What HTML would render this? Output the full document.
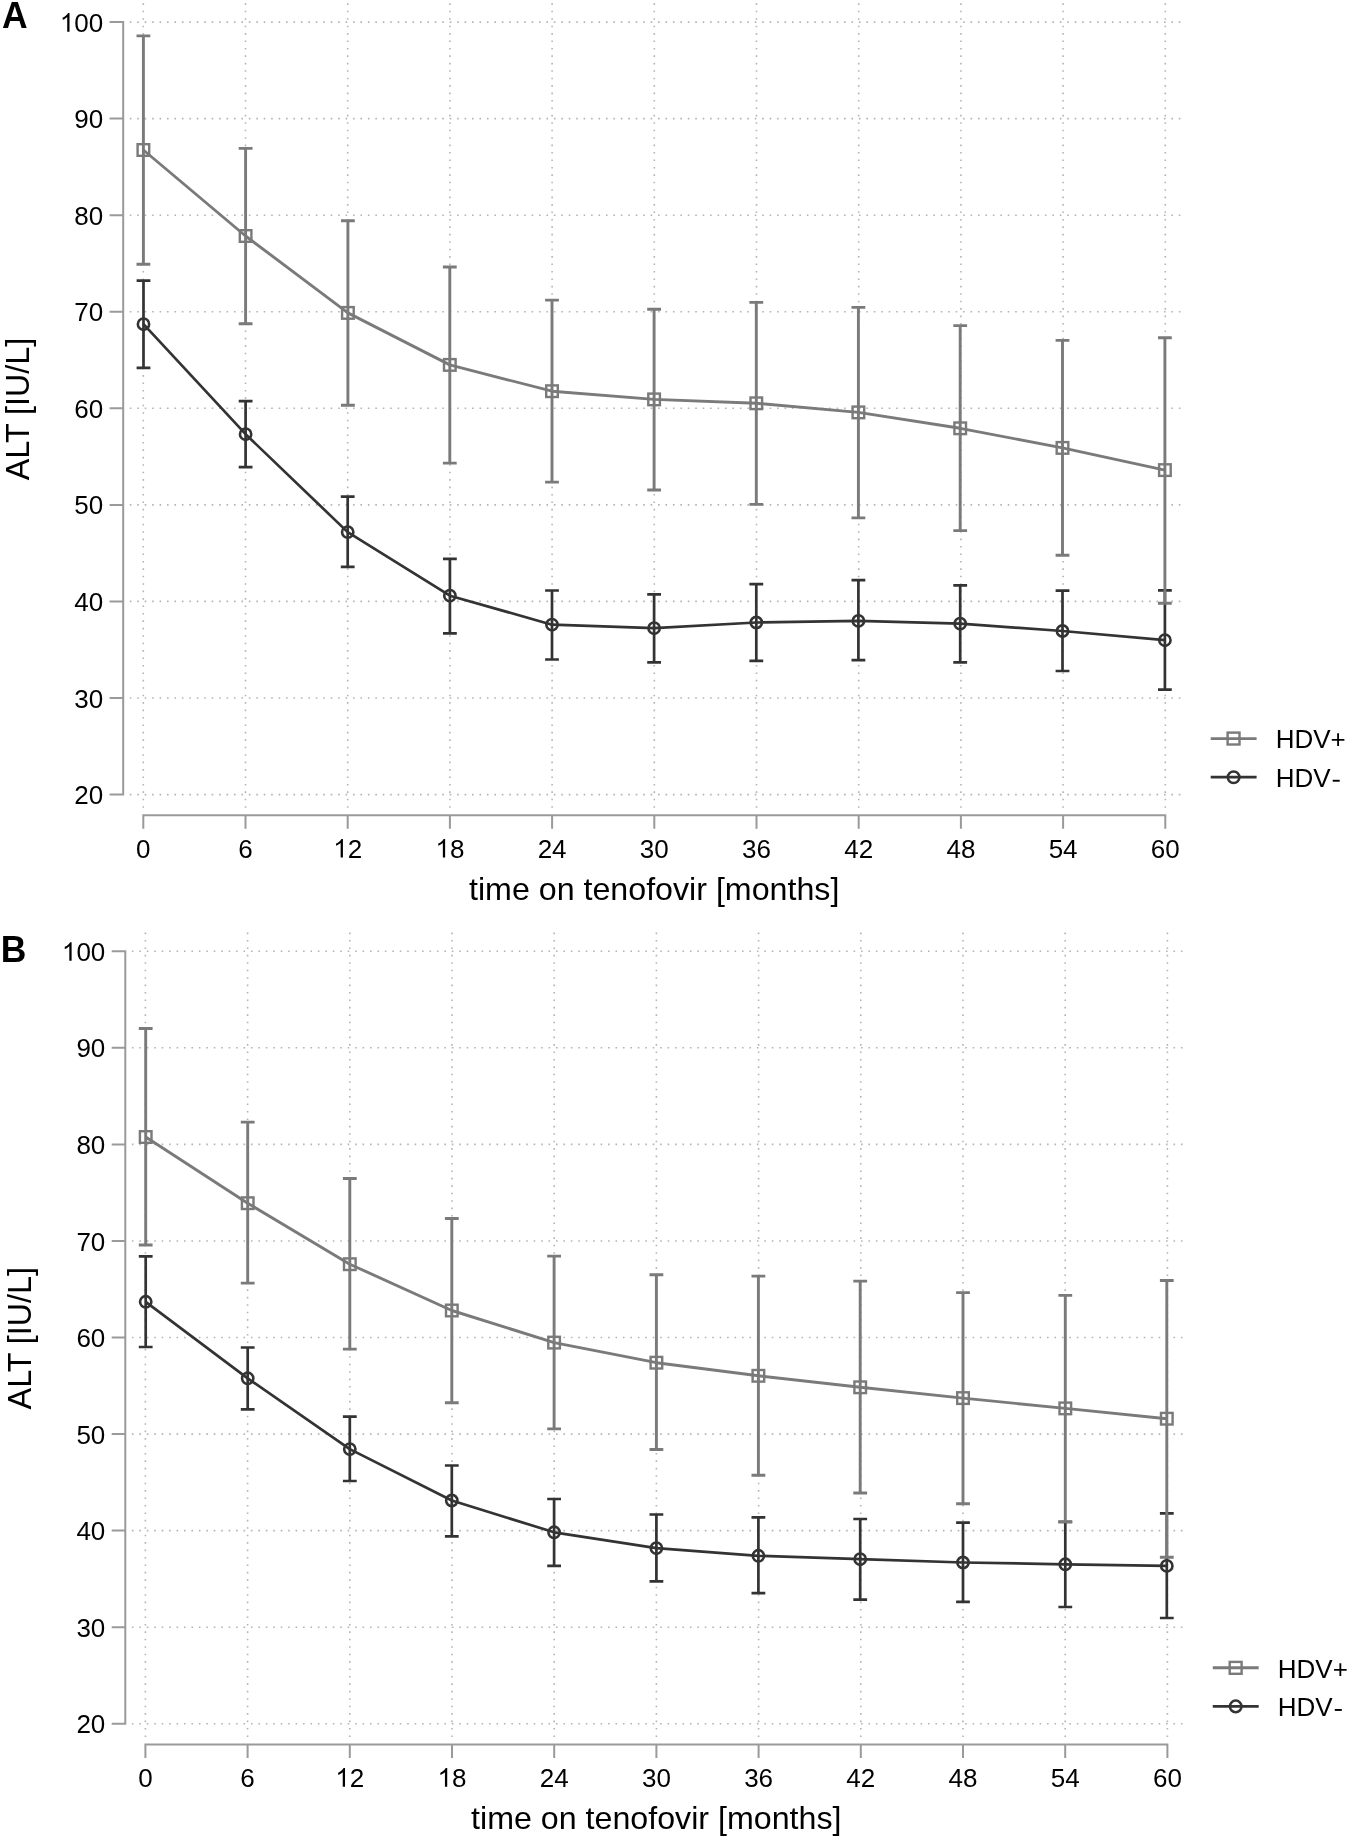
<!DOCTYPE html>
<html><head><meta charset="utf-8"><title>ALT over time on tenofovir</title>
<style>
html,body{margin:0;padding:0;background:#fff;}
body{width:1350px;height:1840px;overflow:hidden;}
svg{display:block;font-family:"Liberation Sans", sans-serif;will-change:transform;}
</style></head>
<body>
<svg width="1350" height="1840" viewBox="0 0 1350 1840">
<rect width="1350" height="1840" fill="#fff"/>
<path d="M129.8 794.6H1182.0 M129.8 698.0H1182.0 M129.8 601.4H1182.0 M129.8 504.9H1182.0 M129.8 408.3H1182.0 M129.8 311.8H1182.0 M129.8 215.2H1182.0 M129.8 118.6H1182.0 M129.8 22.1H1182.0" stroke="#b4b4b4" stroke-width="1.6" stroke-dasharray="1.6 5.84" fill="none"/>
<path d="M143.3 807.8V0.0 M245.5 807.8V0.0 M347.7 807.8V0.0 M449.9 807.8V0.0 M552.1 807.8V0.0 M654.3 807.8V0.0 M756.5 807.8V0.0 M858.7 807.8V0.0 M960.9 807.8V0.0 M1063.1 807.8V0.0 M1165.3 807.8V0.0" stroke="#b4b4b4" stroke-width="1.6" stroke-dasharray="1.6 5.834" fill="none"/>
<path d="M123.2 22.1V794.6 M110.6 794.6H123.2 M110.6 698.0H123.2 M110.6 601.4H123.2 M110.6 504.9H123.2 M110.6 408.3H123.2 M110.6 311.8H123.2 M110.6 215.2H123.2 M110.6 118.6H123.2 M110.6 22.1H123.2 M143.3 815.2H1165.3 M143.3 815.2V827.7 M245.5 815.2V827.7 M347.7 815.2V827.7 M449.9 815.2V827.7 M552.1 815.2V827.7 M654.3 815.2V827.7 M756.5 815.2V827.7 M858.7 815.2V827.7 M960.9 815.2V827.7 M1063.1 815.2V827.7 M1165.3 815.2V827.7" stroke="#9a9a9a" stroke-width="2" fill="none" stroke-linecap="square"/>
<g font-size="26" fill="#000"><text x="74.28 88.74" y="804.15">20</text><text x="74.28 88.74" y="707.59">30</text><text x="74.28 88.74" y="611.03">40</text><text x="74.28 88.74" y="514.47">50</text><text x="74.28 88.74" y="417.91">60</text><text x="74.28 88.74" y="321.35">70</text><text x="74.28 88.74" y="224.79">80</text><text x="74.28 88.74" y="128.23">90</text><path transform="translate(59.82 31.67) scale(0.012695 -0.012695)" d="M763 0H583V1147Q518 1085 412.5 1023Q307 961 223 930V1104Q374 1175 487 1276Q600 1377 647 1472H763Z"/><text x="74.28 88.74" y="31.67">00</text><text x="136.07" y="857.60">0</text><text x="238.27" y="857.60">6</text><path transform="translate(333.24 857.60) scale(0.012695 -0.012695)" d="M763 0H583V1147Q518 1085 412.5 1023Q307 961 223 930V1104Q374 1175 487 1276Q600 1377 647 1472H763Z"/><text x="347.70" y="857.60">2</text><path transform="translate(435.44 857.60) scale(0.012695 -0.012695)" d="M763 0H583V1147Q518 1085 412.5 1023Q307 961 223 930V1104Q374 1175 487 1276Q600 1377 647 1472H763Z"/><text x="449.90" y="857.60">8</text><text x="537.64 552.10" y="857.60">24</text><text x="639.84 654.30" y="857.60">30</text><text x="742.04 756.50" y="857.60">36</text><text x="844.24 858.70" y="857.60">42</text><text x="946.44 960.90" y="857.60">48</text><text x="1048.64 1063.10" y="857.60">54</text><text x="1150.84 1165.30" y="857.60">60</text></g>
<text x="469.0" y="900.2" font-size="32.2">time on tenofovir [months]</text>
<text transform="translate(29.3 409.0) rotate(-90)" text-anchor="middle" font-size="32.3">ALT [IU/L]</text>
<path d="M143.5 280.7V367.9M136.6 280.7H150.4M136.6 367.9H150.4M245.6 401.1V467.1M238.7 401.1H252.5M238.7 467.1H252.5M347.7 496.7V566.8M340.8 496.7H354.6M340.8 566.8H354.6M449.9 558.9V633.3M443.0 558.9H456.8M443.0 633.3H456.8M552.0 590.5V659.5M545.1 590.5H558.9M545.1 659.5H558.9M654.1 594.4V662.4M647.2 594.4H661.0M647.2 662.4H661.0M756.3 584.1V660.8M749.4 584.1H763.2M749.4 660.8H763.2M858.4 580.2V660.1M851.5 580.2H865.3M851.5 660.1H865.3M960.2 585.4V662.3M953.3 585.4H967.1M953.3 662.3H967.1M1062.5 590.6V671.0M1055.6 590.6H1069.4M1055.6 671.0H1069.4M1164.9 590.4V689.7M1158.0 590.4H1171.8M1158.0 689.7H1171.8" stroke="#333" stroke-width="2.7" fill="none"/><polyline points="143.5,324.2 245.6,434.2 347.7,532.1 449.9,595.7 552.0,624.7 654.1,628.2 756.3,622.5 858.4,620.9 960.2,623.7 1062.5,631.0 1164.9,640.2" stroke="#333" stroke-width="2.7" fill="none" stroke-linejoin="round"/><circle cx="143.5" cy="324.2" r="5.65" stroke="#333" stroke-width="2.6" fill="none"/><circle cx="245.6" cy="434.2" r="5.65" stroke="#333" stroke-width="2.6" fill="none"/><circle cx="347.7" cy="532.1" r="5.65" stroke="#333" stroke-width="2.6" fill="none"/><circle cx="449.9" cy="595.7" r="5.65" stroke="#333" stroke-width="2.6" fill="none"/><circle cx="552.0" cy="624.7" r="5.65" stroke="#333" stroke-width="2.6" fill="none"/><circle cx="654.1" cy="628.2" r="5.65" stroke="#333" stroke-width="2.6" fill="none"/><circle cx="756.3" cy="622.5" r="5.65" stroke="#333" stroke-width="2.6" fill="none"/><circle cx="858.4" cy="620.9" r="5.65" stroke="#333" stroke-width="2.6" fill="none"/><circle cx="960.2" cy="623.7" r="5.65" stroke="#333" stroke-width="2.6" fill="none"/><circle cx="1062.5" cy="631.0" r="5.65" stroke="#333" stroke-width="2.6" fill="none"/><circle cx="1164.9" cy="640.2" r="5.65" stroke="#333" stroke-width="2.6" fill="none"/>
<path d="M143.4 35.9V264.3M136.5 35.9H150.3M136.5 264.3H150.3M245.6 148.4V323.7M238.7 148.4H252.5M238.7 323.7H252.5M347.9 220.7V405.2M341.0 220.7H354.8M341.0 405.2H354.8M449.8 267.0V463.1M442.9 267.0H456.7M442.9 463.1H456.7M552.0 300.1V482.1M545.1 300.1H558.9M545.1 482.1H558.9M654.1 309.2V490.0M647.2 309.2H661.0M647.2 490.0H661.0M756.3 302.4V504.4M749.4 302.4H763.2M749.4 504.4H763.2M858.4 307.4V517.9M851.5 307.4H865.3M851.5 517.9H865.3M960.2 325.6V530.6M953.3 325.6H967.1M953.3 530.6H967.1M1062.5 340.4V555.3M1055.6 340.4H1069.4M1055.6 555.3H1069.4M1164.9 337.7V603.2M1158.0 337.7H1171.8M1158.0 603.2H1171.8" stroke="#7a7a7a" stroke-width="2.9" fill="none"/><polyline points="143.4,150.0 245.6,236.0 347.9,312.9 449.8,364.9 552.0,391.2 654.1,399.4 756.3,403.3 858.4,412.4 960.2,428.3 1062.5,447.9 1164.9,470.1" stroke="#7a7a7a" stroke-width="2.9" fill="none" stroke-linejoin="round"/><rect x="137.6" y="144.2" width="11.6" height="11.6" stroke="#7a7a7a" stroke-width="2.4" fill="none"/><rect x="239.8" y="230.2" width="11.6" height="11.6" stroke="#7a7a7a" stroke-width="2.4" fill="none"/><rect x="342.1" y="307.1" width="11.6" height="11.6" stroke="#7a7a7a" stroke-width="2.4" fill="none"/><rect x="444.0" y="359.1" width="11.6" height="11.6" stroke="#7a7a7a" stroke-width="2.4" fill="none"/><rect x="546.2" y="385.4" width="11.6" height="11.6" stroke="#7a7a7a" stroke-width="2.4" fill="none"/><rect x="648.3" y="393.6" width="11.6" height="11.6" stroke="#7a7a7a" stroke-width="2.4" fill="none"/><rect x="750.5" y="397.5" width="11.6" height="11.6" stroke="#7a7a7a" stroke-width="2.4" fill="none"/><rect x="852.6" y="406.6" width="11.6" height="11.6" stroke="#7a7a7a" stroke-width="2.4" fill="none"/><rect x="954.4" y="422.5" width="11.6" height="11.6" stroke="#7a7a7a" stroke-width="2.4" fill="none"/><rect x="1056.7" y="442.1" width="11.6" height="11.6" stroke="#7a7a7a" stroke-width="2.4" fill="none"/><rect x="1159.1" y="464.3" width="11.6" height="11.6" stroke="#7a7a7a" stroke-width="2.4" fill="none"/>
<path d="M1210.7 738.6H1256.6" stroke="#7a7a7a" stroke-width="2.9"/>
<rect x="1227.6" y="732.6" width="11.9" height="11.9" stroke="#7a7a7a" stroke-width="2.4" fill="none"/>
<path d="M1210.7 777.2H1256.6" stroke="#333" stroke-width="2.7"/>
<circle cx="1233.6" cy="777.2" r="5.8" stroke="#333" stroke-width="2.5" fill="none"/>
<text x="1275.7" y="748.4" font-size="26" style="font-kerning:none">HDV+</text>
<text x="1275.7" y="787.0" font-size="26" style="font-kerning:none">HDV</text>
<rect x="1332.7" y="779.8" width="7.0" height="1.9" fill="#000"/>
<path d="M131.9 1723.8H1184.1 M131.9 1627.2H1184.1 M131.9 1530.6H1184.1 M131.9 1434.1H1184.1 M131.9 1337.5H1184.1 M131.9 1241.0H1184.1 M131.9 1144.4H1184.1 M131.9 1047.8H1184.1 M131.9 951.3H1184.1" stroke="#b4b4b4" stroke-width="1.6" stroke-dasharray="1.6 5.84" fill="none"/>
<path d="M145.4 1737.0V929.2 M247.6 1737.0V929.2 M349.8 1737.0V929.2 M452.0 1737.0V929.2 M554.2 1737.0V929.2 M656.4 1737.0V929.2 M758.6 1737.0V929.2 M860.8 1737.0V929.2 M963.0 1737.0V929.2 M1065.2 1737.0V929.2 M1167.4 1737.0V929.2" stroke="#b4b4b4" stroke-width="1.6" stroke-dasharray="1.6 5.834" fill="none"/>
<path d="M125.3 951.3V1723.8 M112.7 1723.8H125.3 M112.7 1627.2H125.3 M112.7 1530.6H125.3 M112.7 1434.1H125.3 M112.7 1337.5H125.3 M112.7 1241.0H125.3 M112.7 1144.4H125.3 M112.7 1047.8H125.3 M112.7 951.3H125.3 M145.4 1744.4H1167.4 M145.4 1744.4V1756.9 M247.6 1744.4V1756.9 M349.8 1744.4V1756.9 M452.0 1744.4V1756.9 M554.2 1744.4V1756.9 M656.4 1744.4V1756.9 M758.6 1744.4V1756.9 M860.8 1744.4V1756.9 M963.0 1744.4V1756.9 M1065.2 1744.4V1756.9 M1167.4 1744.4V1756.9" stroke="#9a9a9a" stroke-width="2" fill="none" stroke-linecap="square"/>
<g font-size="26" fill="#000"><text x="76.38 90.84" y="1733.35">20</text><text x="76.38 90.84" y="1636.79">30</text><text x="76.38 90.84" y="1540.23">40</text><text x="76.38 90.84" y="1443.67">50</text><text x="76.38 90.84" y="1347.11">60</text><text x="76.38 90.84" y="1250.55">70</text><text x="76.38 90.84" y="1153.99">80</text><text x="76.38 90.84" y="1057.43">90</text><path transform="translate(61.92 960.87) scale(0.012695 -0.012695)" d="M763 0H583V1147Q518 1085 412.5 1023Q307 961 223 930V1104Q374 1175 487 1276Q600 1377 647 1472H763Z"/><text x="76.38 90.84" y="960.87">00</text><text x="138.17" y="1786.80">0</text><text x="240.37" y="1786.80">6</text><path transform="translate(335.34 1786.80) scale(0.012695 -0.012695)" d="M763 0H583V1147Q518 1085 412.5 1023Q307 961 223 930V1104Q374 1175 487 1276Q600 1377 647 1472H763Z"/><text x="349.80" y="1786.80">2</text><path transform="translate(437.54 1786.80) scale(0.012695 -0.012695)" d="M763 0H583V1147Q518 1085 412.5 1023Q307 961 223 930V1104Q374 1175 487 1276Q600 1377 647 1472H763Z"/><text x="452.00" y="1786.80">8</text><text x="539.74 554.20" y="1786.80">24</text><text x="641.94 656.40" y="1786.80">30</text><text x="744.14 758.60" y="1786.80">36</text><text x="846.34 860.80" y="1786.80">42</text><text x="948.54 963.00" y="1786.80">48</text><text x="1050.74 1065.20" y="1786.80">54</text><text x="1152.94 1167.40" y="1786.80">60</text></g>
<text x="471.1" y="1829.4" font-size="32.2">time on tenofovir [months]</text>
<text transform="translate(31.4 1338.2) rotate(-90)" text-anchor="middle" font-size="32.3">ALT [IU/L]</text>
<path d="M145.7 1256.4V1347.0M138.8 1256.4H152.6M138.8 1347.0H152.6M247.7 1347.5V1409.4M240.8 1347.5H254.6M240.8 1409.4H254.6M349.8 1416.7V1481.0M342.9 1416.7H356.7M342.9 1481.0H356.7M451.8 1465.5V1536.3M444.9 1465.5H458.7M444.9 1536.3H458.7M554.1 1499.0V1565.9M547.2 1499.0H561.0M547.2 1565.9H561.0M656.4 1514.5V1581.4M649.5 1514.5H663.3M649.5 1581.4H663.3M758.4 1517.4V1593.2M751.5 1517.4H765.3M751.5 1593.2H765.3M860.2 1519.0V1599.6M853.3 1519.0H867.1M853.3 1599.6H867.1M963.0 1522.6V1601.8M956.1 1522.6H969.9M956.1 1601.8H969.9M1065.3 1521.9V1607.0M1058.4 1521.9H1072.2M1058.4 1607.0H1072.2M1166.8 1513.4V1618.0M1159.9 1513.4H1173.7M1159.9 1618.0H1173.7" stroke="#333" stroke-width="2.7" fill="none"/><polyline points="145.7,1301.8 247.7,1378.3 349.8,1449.1 451.8,1500.5 554.1,1532.3 656.4,1548.1 758.4,1555.8 860.2,1559.2 963.0,1562.5 1065.3,1564.3 1166.8,1565.9" stroke="#333" stroke-width="2.7" fill="none" stroke-linejoin="round"/><circle cx="145.7" cy="1301.8" r="5.65" stroke="#333" stroke-width="2.6" fill="none"/><circle cx="247.7" cy="1378.3" r="5.65" stroke="#333" stroke-width="2.6" fill="none"/><circle cx="349.8" cy="1449.1" r="5.65" stroke="#333" stroke-width="2.6" fill="none"/><circle cx="451.8" cy="1500.5" r="5.65" stroke="#333" stroke-width="2.6" fill="none"/><circle cx="554.1" cy="1532.3" r="5.65" stroke="#333" stroke-width="2.6" fill="none"/><circle cx="656.4" cy="1548.1" r="5.65" stroke="#333" stroke-width="2.6" fill="none"/><circle cx="758.4" cy="1555.8" r="5.65" stroke="#333" stroke-width="2.6" fill="none"/><circle cx="860.2" cy="1559.2" r="5.65" stroke="#333" stroke-width="2.6" fill="none"/><circle cx="963.0" cy="1562.5" r="5.65" stroke="#333" stroke-width="2.6" fill="none"/><circle cx="1065.3" cy="1564.3" r="5.65" stroke="#333" stroke-width="2.6" fill="none"/><circle cx="1166.8" cy="1565.9" r="5.65" stroke="#333" stroke-width="2.6" fill="none"/>
<path d="M145.7 1028.5V1245.0M138.8 1028.5H152.6M138.8 1245.0H152.6M247.7 1122.1V1283.1M240.8 1122.1H254.6M240.8 1283.1H254.6M349.8 1178.5V1349.1M342.9 1178.5H356.7M342.9 1349.1H356.7M451.8 1218.5V1402.7M444.9 1218.5H458.7M444.9 1402.7H458.7M554.1 1256.1V1428.9M547.2 1256.1H561.0M547.2 1428.9H561.0M656.4 1274.8V1449.5M649.5 1274.8H663.3M649.5 1449.5H663.3M758.4 1276.1V1475.2M751.5 1276.1H765.3M751.5 1475.2H765.3M860.2 1281.1V1493.0M853.3 1281.1H867.1M853.3 1493.0H867.1M963.0 1292.6V1503.8M956.1 1292.6H969.9M956.1 1503.8H969.9M1065.3 1295.4V1521.9M1058.4 1295.4H1072.2M1058.4 1521.9H1072.2M1166.8 1280.5V1557.3M1159.9 1280.5H1173.7M1159.9 1557.3H1173.7" stroke="#7a7a7a" stroke-width="2.9" fill="none"/><polyline points="145.7,1137.0 247.7,1203.2 349.8,1264.2 451.8,1310.5 554.1,1342.6 656.4,1362.7 758.4,1375.8 860.2,1387.3 963.0,1398.1 1065.3,1408.4 1166.8,1418.7" stroke="#7a7a7a" stroke-width="2.9" fill="none" stroke-linejoin="round"/><rect x="139.9" y="1131.2" width="11.6" height="11.6" stroke="#7a7a7a" stroke-width="2.4" fill="none"/><rect x="241.9" y="1197.4" width="11.6" height="11.6" stroke="#7a7a7a" stroke-width="2.4" fill="none"/><rect x="344.0" y="1258.4" width="11.6" height="11.6" stroke="#7a7a7a" stroke-width="2.4" fill="none"/><rect x="446.0" y="1304.7" width="11.6" height="11.6" stroke="#7a7a7a" stroke-width="2.4" fill="none"/><rect x="548.3" y="1336.8" width="11.6" height="11.6" stroke="#7a7a7a" stroke-width="2.4" fill="none"/><rect x="650.6" y="1356.9" width="11.6" height="11.6" stroke="#7a7a7a" stroke-width="2.4" fill="none"/><rect x="752.6" y="1370.0" width="11.6" height="11.6" stroke="#7a7a7a" stroke-width="2.4" fill="none"/><rect x="854.4" y="1381.5" width="11.6" height="11.6" stroke="#7a7a7a" stroke-width="2.4" fill="none"/><rect x="957.2" y="1392.3" width="11.6" height="11.6" stroke="#7a7a7a" stroke-width="2.4" fill="none"/><rect x="1059.5" y="1402.6" width="11.6" height="11.6" stroke="#7a7a7a" stroke-width="2.4" fill="none"/><rect x="1161.0" y="1412.9" width="11.6" height="11.6" stroke="#7a7a7a" stroke-width="2.4" fill="none"/>
<path d="M1212.8 1667.8H1258.7" stroke="#7a7a7a" stroke-width="2.9"/>
<rect x="1229.7" y="1661.9" width="11.9" height="11.9" stroke="#7a7a7a" stroke-width="2.4" fill="none"/>
<path d="M1212.8 1706.4H1258.7" stroke="#333" stroke-width="2.7"/>
<circle cx="1235.7" cy="1706.4" r="5.8" stroke="#333" stroke-width="2.5" fill="none"/>
<text x="1277.8" y="1677.6" font-size="26" style="font-kerning:none">HDV+</text>
<text x="1277.8" y="1716.2" font-size="26" style="font-kerning:none">HDV</text>
<rect x="1334.8" y="1709.0" width="7.0" height="1.9" fill="#000"/>
<text transform="translate(2.1 27.7) scale(1 1.035)" font-size="35.5" font-weight="bold">A</text>
<text transform="translate(0.7 962.1) scale(1 1.035)" font-size="35.5" font-weight="bold">B</text>
</svg>
</body></html>
